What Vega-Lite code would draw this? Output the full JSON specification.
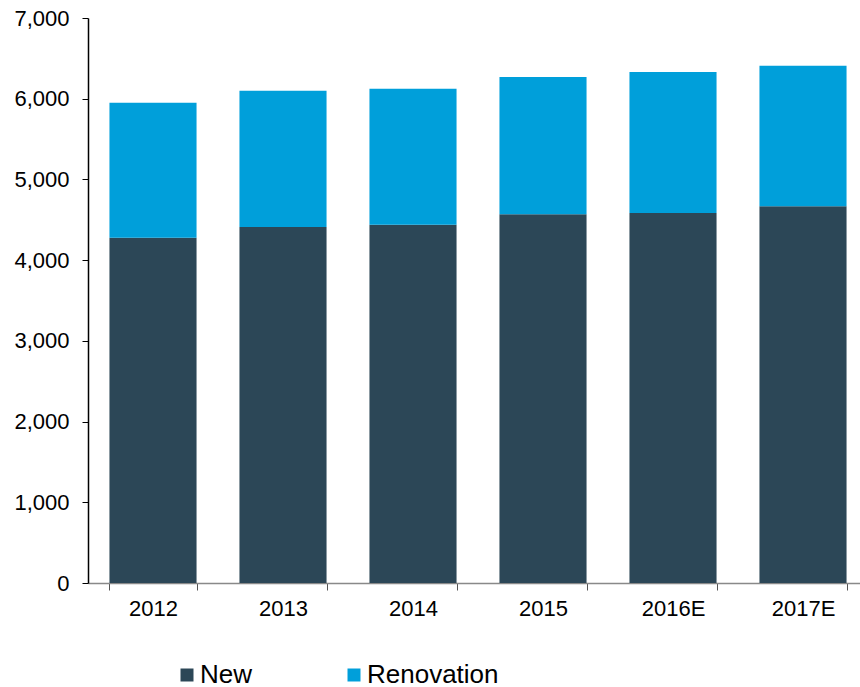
{
  "$schema": "https://vega.github.io/schema/vega-lite/v6.json",
  "autosize": "none",
  "padding": {"left": 88, "top": 18, "right": 0, "bottom": 104},
  "width": 780,
  "height": 565,
  "background": "white",
  "config": {
    "view": {"stroke": null},
    "font": "Liberation Sans"
  },
  "data": {
    "values": [
      {"year": "2012", "type": "New", "value": 4278},
      {"year": "2012", "type": "Renovation", "value": 1671},
      {"year": "2013", "type": "New", "value": 4411},
      {"year": "2013", "type": "Renovation", "value": 1687},
      {"year": "2014", "type": "New", "value": 4439},
      {"year": "2014", "type": "Renovation", "value": 1684},
      {"year": "2015", "type": "New", "value": 4568},
      {"year": "2015", "type": "Renovation", "value": 1700},
      {"year": "2016E", "type": "New", "value": 4584},
      {"year": "2016E", "type": "Renovation", "value": 1746},
      {"year": "2017E", "type": "New", "value": 4667},
      {"year": "2017E", "type": "Renovation", "value": 1741}
    ]
  },
  "mark": {"type": "bar"},
  "encoding": {
    "x": {
      "field": "year",
      "type": "nominal",
      "sort": null,
      "scale": {"paddingInner": 0.33, "paddingOuter": 0.165},
      "axis": {
        "title": null,
        "labelAngle": 0,
        "labelFontSize": 22,
        "labelColor": "#000000",
        "labelPadding": 8,
        "tickBand": "extent",
        "tickSize": 7,
        "tickColor": "#555555",
        "domainColor": "#898989",
        "domainWidth": 1.5
      }
    },
    "y": {
      "field": "value",
      "type": "quantitative",
      "stack": "zero",
      "scale": {"domain": [0, 7000], "nice": false},
      "axis": {
        "title": null,
        "values": [0, 1000, 2000, 3000, 4000, 5000, 6000, 7000],
        "labelExpr": "datum.value == 0 ? '0' : (round(datum.value / 1000) + ',000')",
        "grid": false,
        "labelFontSize": 22,
        "labelColor": "#000000",
        "labelPadding": 13,
        "tickSize": 6,
        "tickColor": "#000000",
        "domainColor": "#000000",
        "domainWidth": 1.5
      }
    },
    "color": {
      "field": "type",
      "type": "nominal",
      "scale": {"domain": ["New", "Renovation"], "range": ["#2c4757", "#009fda"]},
      "legend": {
        "title": null,
        "orient": "none",
        "legendX": 86,
        "legendY": 644,
        "padding": 0,
        "direction": "horizontal",
        "columns": 2,
        "columnPadding": 88,
        "symbolType": "square",
        "symbolSize": 169,
        "symbolStrokeWidth": 0,
        "labelFontSize": 26,
        "labelColor": "#000000",
        "labelOffset": 0
      }
    },
    "order": {"field": "type", "sort": "ascending"}
  }
}
